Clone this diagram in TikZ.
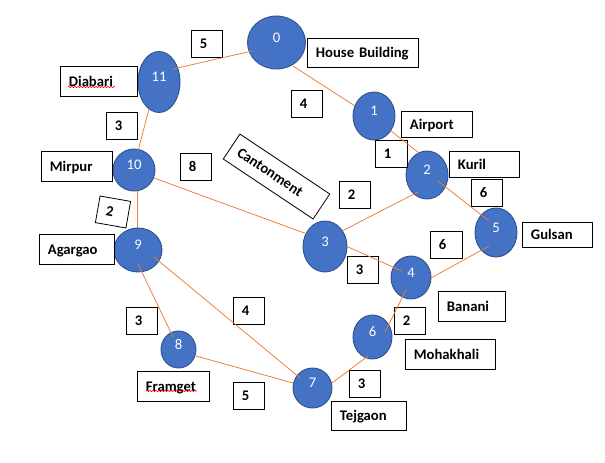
\documentclass[tikz,border=0pt]{standalone}
\usepackage{fontspec}
\setmainfont{Carlito}
\usetikzlibrary{shapes.geometric,calc,decorations.pathmorphing}
\definecolor{stnfill}{HTML}{4472C4}
\definecolor{stnline}{HTML}{2F528F}
\definecolor{edgecol}{HTML}{ED7D31}
\tikzset{
  stn/.style={ellipse, draw=stnline, fill=stnfill, line width=0.9pt, inner sep=0pt},
  stntext/.style={text=white, inner sep=0pt, yshift=5pt, font=\fontsize{14.67}{16}\selectfont},
  tagstyle/.style={draw, fill=white, rectangle, anchor=north west, line width=0.8pt,
    inner xsep=8.5pt, inner ysep=0pt, align=left, text height=9.5pt, text depth=0pt,
    font=\bfseries\fontsize{14.67}{16}\selectfont},
  edge/.style={draw=edgecol, line width=0.75pt},
  squiggle/.style={draw=red, line width=0.6pt, decorate,
    decoration={snake, segment length=3pt, amplitude=0.7pt}}
}
\newcommand\tagbox[6]{%
  \pgfmathsetmacro\tbw{#4-#2-17}%
  \pgfmathsetmacro\tbh{#5-#3}%
  \node[tagstyle, text width=\tbw pt, minimum height=\tbh pt] (#1) at (#2,#3) {#6};}
\newcommand\station[6]{%
  \node[stn, minimum width=#4pt, minimum height=#5pt, label={[stntext]center:#6}] (#1) at (#2,#3) {};}
\begin{document}
\begin{tikzpicture}[x=1pt,y=-1pt]
\fill[white] (0,0) rectangle (605,463);
\useasboundingbox (0,0) rectangle (605,463);
% stations
\station{n0}{276.5}{42.5}{58}{53}{0}
\station{n1}{374}{116}{42}{48}{1}
\station{n2}{427}{175}{42}{48}{2}
\station{n3}{325}{246.5}{44}{51}{3}
\station{n4}{411}{277.5}{40}{43}{4}
\station{n5}{496}{232.5}{42}{49}{5}
\station{n6}{372.5}{337}{39}{44}{6}
\station{n7}{312.5}{388}{39}{40}{7}
\station{n8}{178.5}{349.5}{35}{37}{8}
\station{n9}{138}{250}{48}{44}{9}
\station{n10}{134}{170}{42}{42}{10}
\station{n11}{159}{82}{42}{61}{11}
% name boxes
\tagbox{hb}{307}{38}{418}{67}{House Building}
\tagbox{ap}{401}{111}{472}{137}{Airport}
\tagbox{ku}{449}{151}{519}{177}{Kuril}
\tagbox{gu}{522}{222}{592}{247}{Gulsan}
\tagbox{ba}{438}{291}{505}{321}{Banani}
\tagbox{mo}{405}{339}{495}{369}{Mohakhali}
\tagbox{te}{331}{401}{406}{430}{Tejgaon}
\tagbox{fr}{137}{371}{209}{401}{Framget}
\tagbox{ag}{39}{234}{114}{264}{Agargao}
\tagbox{mi}{41}{151}{112}{181}{Mirpur}
\tagbox{di}{60}{66}{137}{96}{Diabari}
% weight boxes
\tagbox{wa}{191}{30}{222}{57}{5}
\tagbox{wb}{291}{90}{322}{117}{4}
\tagbox{wc}{375}{140}{407}{167}{1}
\tagbox{wd}{471}{179}{502}{206}{6}
\tagbox{we}{339}{181}{370}{208}{2}
\tagbox{wf}{106}{112}{137}{139}{3}
\tagbox{wg}{180}{153}{211}{180}{8}
\tagbox{wh}{430}{231}{462}{258}{6}
\tagbox{wi}{347}{256}{378}{283}{3}
\tagbox{wj}{394}{307}{425}{334}{2}
\tagbox{wk}{349}{370}{380}{397}{3}
\tagbox{wl}{126}{307}{157}{334}{3}
\tagbox{wm}{233}{297}{264}{324}{4}
\tagbox{wn}{233}{382}{264}{409}{5}
\node[tagstyle, anchor=center, rotate=-33.7, text width=91pt, minimum height=30pt] (cant) at (276.5,176.5) {Cantonment};
\node[tagstyle, anchor=center, rotate=-10, text width=14pt, minimum height=27pt] (wo) at (113,212) {2};
% spelling marks
\draw[squiggle] (68,87) -- (115,87);
\draw[squiggle] (146,391) -- (197,391);
% connectors
\draw[edge] ($(n11)+(14,-13)$) -- ($(n0)+(-24.5,8.5)$);
\draw[edge] ($(n0)+(16.5,23.5)$) -- ($(n1)+(-19,-10)$);
\draw[edge] ($(n1)+(17,15)$) -- ($(n2)+(-8,-22)$);
\draw[edge] ($(n2)+(11,6)$) -- ($(n5)+(-7,-11.5)$);
\draw[edge] ($(n2)+(-9,17)$) -- ($(n3)+(17,-15.5)$);
\draw[edge] ($(n10)+(20,8)$) -- ($(n3)+(-18,-12.5)$);
\draw[edge] ($(n3)+(22,0)$) -- ($(n4)+(-9,-6.5)$);
\draw[edge] ($(n5)+(-7,13.5)$) -- ($(n4)+(20,0.5)$);
\draw[edge] ($(n4)+(-5,12.5)$) -- ($(n6)+(12.5,-5)$);
\draw[edge] ($(n6)+(-4.5,19)$) -- ($(n7)+(19.5,-5)$);
\draw[edge] ($(n9)+(16,7)$) -- ($(n7)+(-12.5,-10)$);
\draw[edge] ($(n8)+(17.5,6.5)$) -- ($(n7)+(-19.5,-5)$);
\draw[edge] ($(n9)+(0,14)$) -- ($(n8)+(-5.5,-12.5)$);
\draw[edge] ($(n10)+(3,21)$) -- ($(n9)+(-1,-22)$);
\draw[edge] ($(n11)+(-10,27)$) -- ($(n10)+(4,-19)$);
\end{tikzpicture}
\end{document}
